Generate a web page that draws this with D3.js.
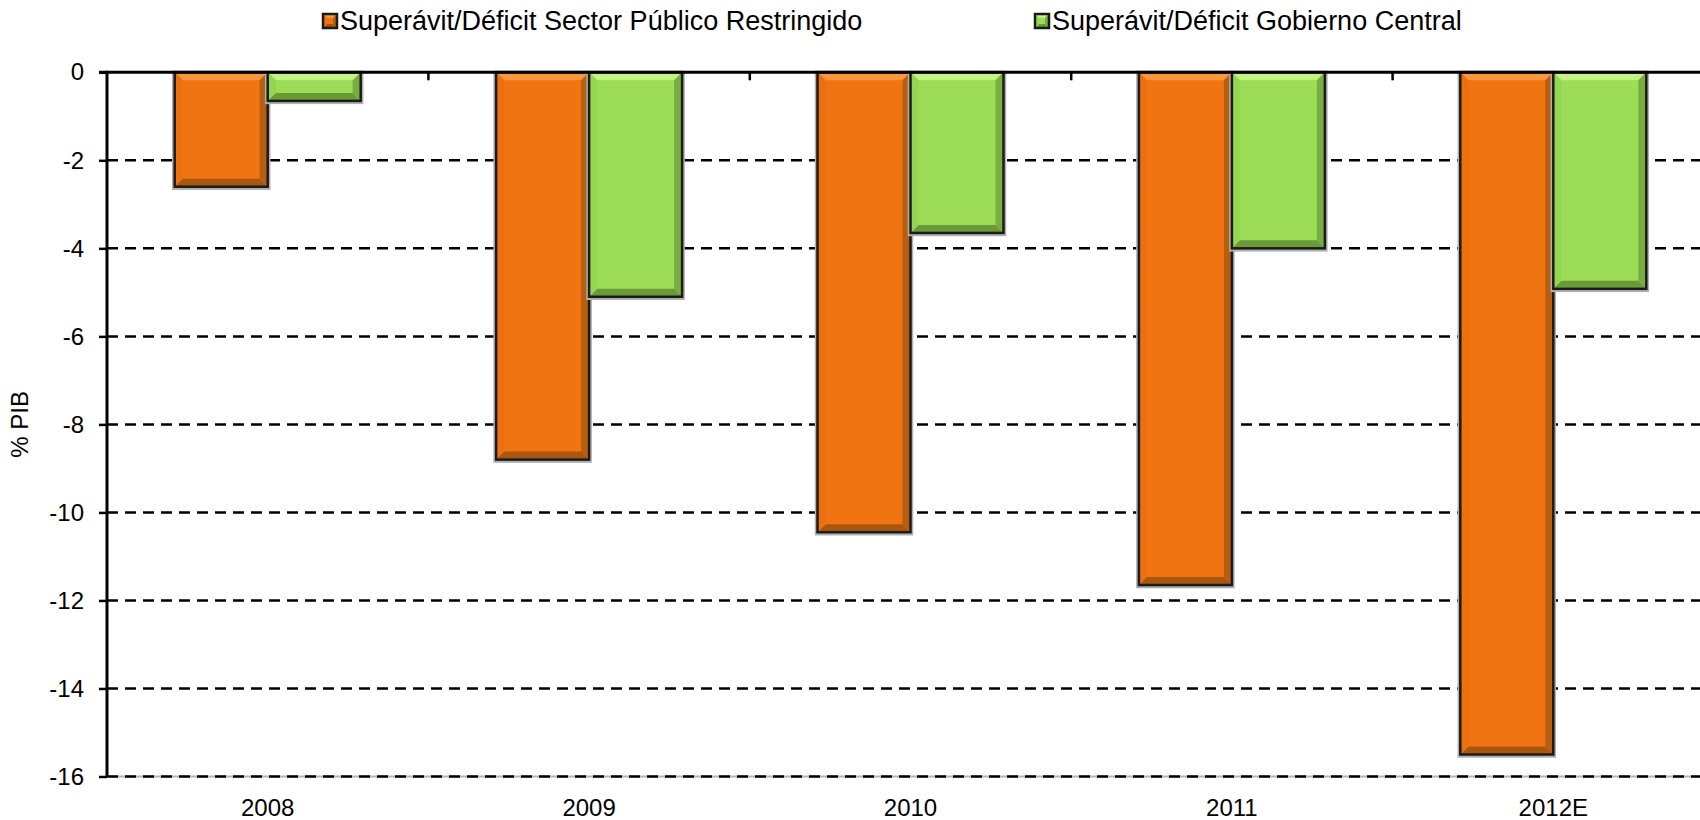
<!DOCTYPE html>
<html>
<head>
<meta charset="utf-8">
<script src="https://cdn.jsdelivr.net/npm/d3@7"></script>
<style>
  html, body { margin: 0; padding: 0; background: #ffffff; }
  svg { display: block; font-family: "Liberation Sans", Arial, sans-serif; }
</style>
</head>
<body>
<svg id="chart" width="1700" height="820"></svg>
<script>
// Balance fiscal como % del PIB
const categories = ["2008", "2009", "2010", "2011", "2012E"];
const seriesNames = [
  "Superávit/Déficit Sector Público Restringido",
  "Superávit/Déficit Gobierno Central"
];
const sectorPublicoRestringido = [-2.6, -8.8, -10.45, -11.65, -15.5];
const gobiernoCentral = [-0.65, -5.1, -3.65, -4.0, -4.92];
const yTicks = [0, -2, -4, -6, -8, -10, -12, -14, -16];
const yTitle = "% PIB";

const seriesValues = [sectorPublicoRestringido, gobiernoCentral];

// bevelled fill palettes: base, top, bottom, left, right
const palettes = [
  { base: "#F07512", top: "#F9973F", bottom: "#A9560F", left: "#EC7010", right: "#B65E12" },
  { base: "#9CDC56", top: "#C3F183", bottom: "#6A9A38", left: "#95D650", right: "#76AE40" }
];

const svg = d3.select("#chart");
const plot = { left: 107, right: 1714, top: 72.3, bottom: 776.5 };

const x0 = d3.scaleBand().domain(categories).range([plot.left, plot.right]).padding(0);
const x1 = d3.scaleBand().domain(d3.range(seriesNames.length))
  .range([0, x0.bandwidth()]).paddingInner(0).paddingOuter(0.728);
const y = d3.scaleLinear().domain([0, -16]).range([plot.top, plot.bottom]);

// horizontal dashed gridlines
const gridG = svg.append("g");
gridG.append("line")
  .attr("x1", plot.left).attr("x2", plot.right)
  .attr("y1", y(-16)).attr("y2", y(-16))
  .attr("stroke", "#b5b5b5").attr("stroke-width", 2);
gridG.selectAll("line.grid").data(yTicks.filter(d => d !== 0)).join("line")
  .attr("class", "grid")
  .attr("x1", plot.left).attr("x2", plot.right)
  .attr("y1", d => y(d)).attr("y2", d => y(d))
  .attr("stroke", "#000").attr("stroke-width", 2.5)
  .attr("stroke-dasharray", "11,7");

// bevelled bar: flat base plus four trapezoid facets
function drawBevelBar(g, bx, by, bw, bh, pal, bevelSize, shadow) {
  const b = Math.min(bevelSize, bh / 2, bw / 2);
  if (shadow) {
    g.append("rect").attr("x", bx - 1).attr("y", by).attr("width", bw + 2).attr("height", bh + 1.5)
      .attr("fill", "none").attr("stroke", "#b0b0b0").attr("stroke-width", 3.5);
  }
  g.append("rect").attr("x", bx).attr("y", by).attr("width", bw).attr("height", bh)
    .attr("fill", pal.base);
  const pts = (arr) => arr.map(p => p.join(",")).join(" ");
  g.append("polygon").attr("points", pts([[bx, by], [bx + bw, by], [bx + bw - b, by + b], [bx + b, by + b]]))
    .attr("fill", pal.top);
  g.append("polygon").attr("points", pts([[bx, by + bh], [bx + bw, by + bh], [bx + bw - b, by + bh - b], [bx + b, by + bh - b]]))
    .attr("fill", pal.bottom);
  g.append("polygon").attr("points", pts([[bx, by], [bx + b, by + b], [bx + b, by + bh - b], [bx, by + bh]]))
    .attr("fill", pal.left);
  g.append("polygon").attr("points", pts([[bx + bw, by], [bx + bw - b, by + b], [bx + bw - b, by + bh - b], [bx + bw, by + bh]]))
    .attr("fill", pal.right);
  g.append("rect").attr("x", bx).attr("y", by).attr("width", bw).attr("height", bh)
    .attr("fill", "none").attr("stroke", "#1b1b1b").attr("stroke-width", 2.5);
}

const barsG = svg.append("g");
categories.forEach((cat, i) => {
  seriesValues.forEach((vals, s) => {
    const v = vals[i];
    const bx = x0(cat) + x1(s);
    const by = y(Math.max(0, v));
    const bh = Math.abs(y(v) - y(0));
    drawBevelBar(barsG, bx, by, x1.bandwidth(), bh, palettes[s], 8, true);
  });
});

// horizontal axis at zero with ticks between categories
const axG = svg.append("g");
axG.append("line")
  .attr("x1", plot.left - 8).attr("x2", plot.right)
  .attr("y1", y(0)).attr("y2", y(0))
  .attr("stroke", "#000").attr("stroke-width", 3);
const boundaries = categories.map(c => x0(c)).slice(1);
axG.selectAll("line.xt").data(boundaries).join("line")
  .attr("class", "xt")
  .attr("x1", d => d).attr("x2", d => d)
  .attr("y1", y(0)).attr("y2", y(0) + 8)
  .attr("stroke", "#000").attr("stroke-width", 2.5);

// category labels below the plot
svg.append("g").selectAll("text").data(categories).join("text")
  .attr("x", d => x0(d) + x0.bandwidth() / 2)
  .attr("y", 816)
  .attr("text-anchor", "middle")
  .attr("font-size", 24)
  .attr("fill", "#000")
  .text(d => d);

// vertical axis
const yAxis = d3.axisLeft(y).tickValues(yTicks).tickSize(8).tickPadding(15)
  .tickFormat(d => String(d));
const yG = svg.append("g").attr("transform", `translate(${plot.left},0)`).call(yAxis);
yG.select(".domain").remove();
yG.selectAll(".tick line").attr("stroke", "#000").attr("stroke-width", 2.5);
yG.selectAll(".tick text").attr("font-size", 24).attr("fill", "#000")
  .attr("font-family", "'Liberation Sans', Arial, sans-serif");
svg.append("line")
  .attr("x1", plot.left).attr("x2", plot.left)
  .attr("y1", y(0) - 1.5).attr("y2", y(-16))
  .attr("stroke", "#000").attr("stroke-width", 3);

// axis title
svg.append("text")
  .attr("transform", `translate(28,${(plot.top + plot.bottom) / 2}) rotate(-90)`)
  .attr("text-anchor", "middle")
  .attr("font-size", 24)
  .attr("fill", "#000")
  .text(yTitle);

// legend
const legendX = [323, 1035];
const legG = svg.append("g");
seriesNames.forEach((name, s) => {
  const lx = legendX[s];
  drawBevelBar(legG, lx, 14, 14, 14, palettes[s], 4, false);
  legG.append("text")
    .attr("x", lx + 17).attr("y", 30)
    .attr("font-size", 27)
    .attr("fill", "#000")
    .text(name);
});
</script>
</body>
</html>
